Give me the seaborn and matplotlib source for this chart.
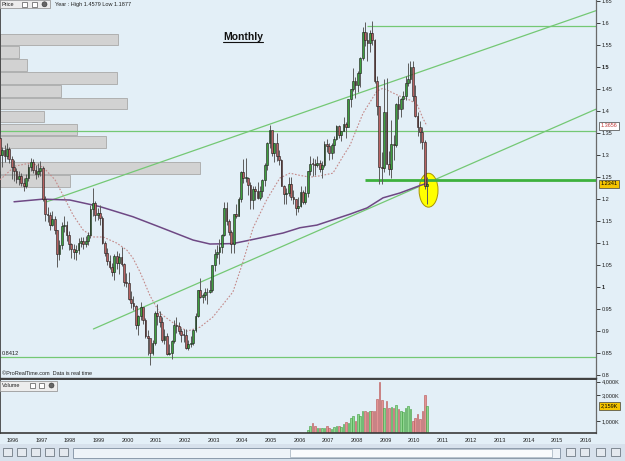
import numpy as np
import pandas as pd
import matplotlib
matplotlib.use('Agg')
import matplotlib.pyplot as plt
from matplotlib.patches import Ellipse, Rectangle
import seaborn as sns

# ---- monthly EUR/USD candles, Jul 1995 .. Jun 2010 ----
first_open = 1.338
closes = [
    1.300, 1.310, 1.298, 1.312, 1.290, 1.272,                                        # 1995 Jul-Dec
    1.262, 1.245, 1.252, 1.236, 1.230, 1.248, 1.272, 1.283, 1.266, 1.257, 1.263, 1.270,  # 1996
    1.200, 1.165, 1.162, 1.140, 1.155, 1.128, 1.075, 1.095, 1.138, 1.141, 1.118, 1.096,  # 1997
    1.085, 1.078, 1.083, 1.100, 1.103, 1.097, 1.104, 1.118, 1.176, 1.190, 1.162, 1.168,  # 1998
    1.157, 1.100, 1.077, 1.058, 1.044, 1.033, 1.070, 1.053, 1.068, 1.052, 1.010, 1.008,  # 1999
    0.971, 0.964, 0.956, 0.912, 0.934, 0.953, 0.925, 0.888, 0.883, 0.850, 0.872, 0.940,  # 2000
    0.933, 0.920, 0.878, 0.888, 0.848, 0.849, 0.877, 0.912, 0.911, 0.900, 0.891, 0.890,  # 2001
    0.860, 0.869, 0.872, 0.902, 0.934, 0.992, 0.977, 0.981, 0.987, 0.988, 0.993, 1.049,  # 2002
    1.074, 1.079, 1.091, 1.117, 1.180, 1.150, 1.124, 1.097, 1.165, 1.160, 1.200, 1.260,  # 2003
    1.247, 1.248, 1.231, 1.197, 1.221, 1.218, 1.202, 1.217, 1.242, 1.277, 1.327, 1.356,  # 2004
    1.304, 1.326, 1.297, 1.287, 1.230, 1.210, 1.213, 1.234, 1.203, 1.199, 1.179, 1.184,  # 2005
    1.216, 1.193, 1.212, 1.262, 1.280, 1.279, 1.277, 1.281, 1.267, 1.276, 1.324, 1.320,  # 2006
    1.303, 1.323, 1.336, 1.365, 1.345, 1.354, 1.369, 1.364, 1.427, 1.449, 1.467, 1.459,  # 2007
    1.486, 1.519, 1.579, 1.560, 1.555, 1.576, 1.561, 1.468, 1.410, 1.273, 1.270, 1.397,  # 2008
    1.280, 1.267, 1.325, 1.323, 1.416, 1.403, 1.426, 1.434, 1.464, 1.472, 1.500, 1.433,  # 2009
    1.387, 1.363, 1.351, 1.330, 1.228, 1.234,                                        # 2010 Jan-Jun
]
highs = [
    1.350, 1.318, 1.322, 1.326, 1.318, 1.298,
    1.287, 1.270, 1.262, 1.258, 1.247, 1.256, 1.280, 1.292, 1.290, 1.276, 1.282, 1.285,
    1.275, 1.206, 1.181, 1.170, 1.172, 1.160, 1.130, 1.106, 1.146, 1.160, 1.150, 1.126,
    1.100, 1.098, 1.094, 1.110, 1.112, 1.112, 1.115, 1.124, 1.185, 1.224, 1.195, 1.180,
    1.185, 1.160, 1.105, 1.087, 1.072, 1.055, 1.075, 1.082, 1.077, 1.090, 1.055, 1.032,
    1.034, 0.990, 0.979, 0.958, 0.935, 0.966, 0.950, 0.930, 0.902, 0.880, 0.880, 0.945,
    0.960, 0.944, 0.932, 0.905, 0.895, 0.870, 0.880, 0.925, 0.932, 0.920, 0.907, 0.905,
    0.905, 0.880, 0.887, 0.904, 0.940, 0.993, 1.019, 0.985, 0.997, 0.996, 1.015, 1.050,
    1.085, 1.094, 1.108, 1.120, 1.193, 1.193, 1.155, 1.129, 1.166, 1.188, 1.205, 1.262,
    1.290, 1.293, 1.249, 1.239, 1.228, 1.230, 1.238, 1.230, 1.244, 1.281, 1.328, 1.367,
    1.354, 1.327, 1.350, 1.310, 1.290, 1.232, 1.225, 1.249, 1.249, 1.219, 1.200, 1.203,
    1.230, 1.220, 1.230, 1.264, 1.298, 1.293, 1.290, 1.297, 1.289, 1.285, 1.331, 1.336,
    1.327, 1.326, 1.343, 1.368, 1.367, 1.355, 1.385, 1.375, 1.427, 1.450, 1.497, 1.477,
    1.490, 1.522, 1.590, 1.602, 1.579, 1.584, 1.604, 1.564, 1.478, 1.410, 1.306, 1.472,
    1.474, 1.309, 1.380, 1.344, 1.418, 1.433, 1.428, 1.445, 1.479, 1.508, 1.514, 1.514,
    1.458, 1.396, 1.376, 1.362, 1.333, 1.249,
]
lows = [
    1.262, 1.272, 1.284, 1.290, 1.281, 1.245,
    1.240, 1.236, 1.232, 1.228, 1.218, 1.224, 1.240, 1.262, 1.258, 1.245, 1.250, 1.252,
    1.195, 1.150, 1.146, 1.130, 1.137, 1.120, 1.045, 1.060, 1.085, 1.124, 1.105, 1.084,
    1.066, 1.062, 1.060, 1.075, 1.090, 1.085, 1.090, 1.095, 1.110, 1.160, 1.150, 1.152,
    1.140, 1.098, 1.070, 1.050, 1.040, 1.025, 1.015, 1.040, 1.030, 1.048, 1.002, 1.000,
    0.970, 0.952, 0.947, 0.905, 0.890, 0.925, 0.915, 0.883, 0.845, 0.823, 0.844, 0.868,
    0.912, 0.908, 0.875, 0.870, 0.845, 0.844, 0.836, 0.871, 0.894, 0.893, 0.875, 0.874,
    0.858, 0.857, 0.864, 0.867, 0.898, 0.932, 0.975, 0.963, 0.969, 0.961, 0.985, 0.987,
    1.036, 1.066, 1.052, 1.077, 1.115, 1.140, 1.117, 1.076, 1.077, 1.157, 1.160, 1.193,
    1.235, 1.238, 1.208, 1.176, 1.176, 1.198, 1.199, 1.196, 1.205, 1.230, 1.265, 1.316,
    1.298, 1.284, 1.286, 1.276, 1.229, 1.187, 1.187, 1.207, 1.197, 1.187, 1.164, 1.170,
    1.181, 1.187, 1.187, 1.205, 1.253, 1.252, 1.253, 1.271, 1.261, 1.248, 1.271, 1.306,
    1.287, 1.291, 1.304, 1.334, 1.339, 1.331, 1.354, 1.337, 1.362, 1.409, 1.444, 1.430,
    1.443, 1.453, 1.515, 1.547, 1.514, 1.533, 1.550, 1.462, 1.390, 1.233, 1.233, 1.260,
    1.278, 1.254, 1.246, 1.288, 1.317, 1.381, 1.385, 1.404, 1.424, 1.456, 1.462, 1.423,
    1.386, 1.343, 1.327, 1.313, 1.223, 1.188,
]

# volume (K), Apr 2006 .. Jun 2010
volume = [300, 650, 850, 600, 500, 480, 500, 480, 600,
          500, 420, 550, 650, 600, 550, 800, 950, 850, 1200, 1350, 1000,
          1500, 1400, 1800, 1800, 1700, 1750, 1750, 1750, 2650, 3950, 2600, 2000,
          2500, 2000, 2100, 2000, 2200, 1950, 1800, 1700, 2000, 2150, 1950, 1000,
          1200, 1500, 1150, 1800, 3000, 2159]

# volume-by-price profile (relative), top band to bottom band
vp_top = 1.5766
vp_step = 0.0292
vp_volume = [118, 19, 27, 117, 61, 127, 44, 77, 106, 0, 200, 70]

# long moving average (purple)
ma_long_t = [1996.04, 1997.05, 1997.99, 1999.04, 2000.19, 2001.03, 2002.29, 2002.88, 2003.68, 2004.28,
             2005.43, 2006.02, 2006.61, 2007.77, 2008.36, 2008.92, 2009.51, 2010.21, 2010.45]
ma_long_p = [1.193, 1.199, 1.197, 1.182, 1.159, 1.138, 1.106, 1.097, 1.098, 1.106,
             1.122, 1.134, 1.140, 1.165, 1.179, 1.202, 1.213, 1.230, 1.235]

# short moving average (dotted)
ma_short_t = [1995.55, 1996.07, 1996.60, 1997.05, 1997.47, 1997.75, 1998.10, 1998.45, 1998.80, 1999.15,
              1999.63, 1999.98, 2000.19, 2000.44, 2000.79, 2001.13, 2001.59, 2002.08, 2002.53, 2002.98,
              2003.68, 2004.03, 2004.38, 2004.87, 2005.32, 2005.67, 2006.02, 2006.37, 2006.72, 2007.17,
              2007.52, 2007.77, 2008.22, 2008.71, 2008.92, 2009.51, 2009.86, 2010.11, 2010.31, 2010.45]
ma_short_p = [1.243, 1.274, 1.281, 1.272, 1.243, 1.208, 1.163, 1.129, 1.113, 1.113,
              1.099, 1.083, 1.065, 1.033, 0.979, 0.940, 0.918, 0.899, 0.908, 0.931,
              0.988, 1.056, 1.133, 1.199, 1.247, 1.258, 1.253, 1.249, 1.252, 1.258,
              1.296, 1.322, 1.394, 1.445, 1.451, 1.433, 1.424, 1.414, 1.383, 1.3656]

# hand-drawn trend lines
channel_hi_t, channel_hi_p = [1997.19, 2016.35], [1.1932, 1.6273]
channel_lo_t, channel_lo_p = [1998.81, 2016.35], [0.9039, 1.4034]
hline_levels = [1.5925, 1.354, 0.8412]
hline_start = [2008.36, 1995.55, 1995.55]
support_level, support_start = 1.2425, 2008.29

last_price, ma_label, last_volume = 1.2341, 1.3656, 2159

# ---------------------------------------------------------------
sns.set_style('white')
plt.rcParams['font.family'] = ['Liberation Sans', 'DejaVu Sans']

BG = '#E3EFF7'
LINE_GREEN = '#74C874'
W, H = 625, 461
X0, X1 = 1995.55, 2016.353

fig = plt.figure(figsize=(6.25, 4.61), dpi=100, facecolor=BG)
ax = fig.add_axes([0, 1 - 378 / H, 596 / W, 378 / H], facecolor=BG)
axv = fig.add_axes([0, 1 - 432.5 / H, 596 / W, (432.5 - 379) / H], facecolor=BG)

n = len(closes)
month_t = 1995 + (np.arange(n) + 6.5) / 12
df = pd.DataFrame({'t': month_t, 'open': [first_open] + closes[:-1],
                   'high': highs, 'low': lows, 'close': closes})
df['up'] = df['close'] >= df['open']

# volume profile bars
vp_vol = np.array(vp_volume, dtype=float)
vp_centers = vp_top - (np.arange(len(vp_vol)) + 0.5) * vp_step
ax.barh(vp_centers, vp_vol / vp_vol.max() * 0.336 * (X1 - X0), left=X0, height=vp_step * 0.9,
        color='#D2D2D2', edgecolor='#A8A8A8', linewidth=0.6, zorder=1)

# trend / level lines
sns.lineplot(x=channel_hi_t, y=channel_hi_p, ax=ax, color=LINE_GREEN, lw=0.9, zorder=2)
sns.lineplot(x=channel_lo_t, y=channel_lo_p, ax=ax, color=LINE_GREEN, lw=0.9, zorder=2)
ax.hlines(hline_levels, hline_start, X1, colors=LINE_GREEN, lw=0.9, zorder=2)

# highlight ellipse on the last candle
ax.add_patch(Ellipse((df['t'].iloc[-1] + 0.05, 1.2193), 0.66, 0.077,
                     facecolor='#FFFF00', edgecolor='#A89400', lw=0.7, zorder=2.5))
ax.hlines(support_level, support_start, X1, colors='#3DB13D', lw=2.0, zorder=3)

# moving averages
sns.lineplot(x=ma_long_t, y=ma_long_p, ax=ax, color='#6E4884', lw=1.1, zorder=3)
ax.plot(ma_short_t, ma_short_p, color='#C48A8A', lw=0.8, ls=(0, (1.5, 1.5)), zorder=3)

# candles
ax.vlines(df['t'], df['low'], df['high'], color='#5C5C5C', lw=0.7, zorder=4)
body = (df['close'] - df['open']).abs().clip(lower=0.002)
ax.bar(df['t'], body, bottom=df[['open', 'close']].min(axis=1), width=0.062,
       color=np.where(df['up'], '#3E9E3E', '#B86262'), edgecolor='#1A1A1A',
       linewidth=0.4, zorder=5)

# volume panel
vdf = df.iloc[n - len(volume):].copy()
vdf['vol'] = volume
axv.bar(vdf['t'], vdf['vol'], width=0.055,
        color=np.where(vdf['up'], '#8FD68F', '#E39393'),
        edgecolor=np.where(vdf['up'], '#3C9C3C', '#B55454'), linewidth=0.4)

# axes / ticks
for a in (ax, axv):
    a.set_xlim(X0, X1)
    a.set_xlabel('')
    a.set_ylabel('')
    a.yaxis.tick_right()
    a.tick_params(axis='y', direction='out', length=3, width=0.6, pad=1,
                  labelsize=4, colors='#202020')
    for s in a.spines.values():
        s.set_color('#3A3A3A')
    a.spines['left'].set_linewidth(1.2)
    a.spines['right'].set_linewidth(0.9)
    a.spines['right'].set_color('#6A6A6A')

ax.set_ylim(0.7925, 1.6516)
ticks = np.round(np.arange(0.80, 1.651, 0.05), 2)
ax.set_yticks(ticks)
ax.set_yticklabels([f'{v:g}' for v in ticks])
for lab in ax.get_yticklabels():
    if lab.get_text() in ('1.5', '1'):
        lab.set_fontweight('bold')
ax.tick_params(axis='x', bottom=False, labelbottom=False)
ax.spines['top'].set_visible(False)
ax.spines['bottom'].set_linewidth(1.0)
ax.spines['bottom'].set_color('#404040')

axv.set_ylim(122, 4206)
axv.set_yticks([1000, 3000, 4000])
axv.set_yticklabels(['1,000K', '3,000K', '4,000K'])
axv.set_xticks(range(1996, 2017))
axv.set_xticklabels([str(y) for y in range(1996, 2017)])
axv.tick_params(axis='x', length=2, width=0.5, pad=2, labelsize=4, colors='#202020')
axv.spines['top'].set_linewidth(1.4)
axv.spines['top'].set_color('#404040')
axv.spines['bottom'].set_linewidth(1.2)

# value boxes on the right scale
ax.text(1.008, ma_label, f'{ma_label:.4f}', transform=ax.get_yaxis_transform(), fontsize=4,
        color='#C03C3C', va='center', ha='left', clip_on=False, zorder=10,
        bbox=dict(boxstyle='square,pad=0.25', fc='white', ec='#404040', lw=0.5))
ax.text(1.008, last_price, f'{last_price:.4f}', transform=ax.get_yaxis_transform(), fontsize=4,
        color='black', va='center', ha='left', clip_on=False, zorder=10,
        bbox=dict(boxstyle='square,pad=0.25', fc='#F4C400', ec='#404040', lw=0.5))
axv.text(1.008, last_volume, f'{last_volume:,}K', transform=axv.get_yaxis_transform(), fontsize=4,
         color='black', va='center', ha='left', clip_on=False, zorder=10,
         bbox=dict(boxstyle='square,pad=0.25', fc='#F4C400', ec='#404040', lw=0.5))

# overlay in pixel space for headers, captions, toolbar
ov = fig.add_axes([0, 0, 1, 1])
ov.set_zorder(20)
ov.patch.set_alpha(0)
ov.set_xlim(0, W)
ov.set_ylim(H, 0)
ov.axis('off')

ov.add_patch(Rectangle((0, 0), 50, 8.5, fc='#EDEDED', ec='#9A9A9A', lw=0.6))
ov.text(2, 4.5, 'Price', fontsize=4, va='center', color='#202020')
for px in (22, 32):
    ov.add_patch(Rectangle((px, 1.8), 5, 5, fc='white', ec='#555555', lw=0.5))
ov.add_patch(Ellipse((44.5, 4.3), 5, 5, fc='#666666', ec='#333333', lw=0.4))
ov.text(55, 4.5, 'Year : High 1.4579 Low 1.1877', fontsize=4, va='center', color='#202020')

ov.text(243, 37, 'Monthly', fontsize=7.5, fontweight='bold', ha='center', va='center', color='#111111')
ov.plot([223, 263], [42.3, 42.3], color='#111111', lw=0.8)

ov.text(2, 355.5, '0.8412', fontsize=4, va='bottom', color='#202020')
ov.text(2, 376, '\u00a9ProRealTime.com  Data is real time', fontsize=4, va='bottom', color='#202020')

ov.add_patch(Rectangle((0, 380.5), 57, 10, fc='#EDEDED', ec='#9A9A9A', lw=0.6))
ov.text(2, 385.5, 'Volume', fontsize=4, va='center', color='#202020')
for px in (30, 39):
    ov.add_patch(Rectangle((px, 383), 5, 5, fc='white', ec='#555555', lw=0.5))
ov.add_patch(Ellipse((51.5, 385.5), 5, 5, fc='#666666', ec='#333333', lw=0.4))

# toolbar strip
ov.add_patch(Rectangle((0, 444), W, 17, fc='#D7E1EC', ec='none'))
ov.add_patch(Rectangle((73, 447.5), 487, 10, fc='#EEF3F8', ec='#7F8FA0', lw=0.6))
ov.add_patch(Rectangle((290, 448.5), 262, 8, fc='#F9FBFD', ec='#A0AEBB', lw=0.5))
for px in (3, 17, 31, 45, 59):
    ov.add_patch(Rectangle((px, 448), 9, 8, fc='#E4E9EF', ec='#5A6470', lw=0.5))
for px in (566, 580, 596, 611):
    ov.add_patch(Rectangle((px, 448), 9, 8, fc='#E4E9EF', ec='#5A6470', lw=0.5))

fig.savefig('out.png', dpi=100, facecolor=BG)
